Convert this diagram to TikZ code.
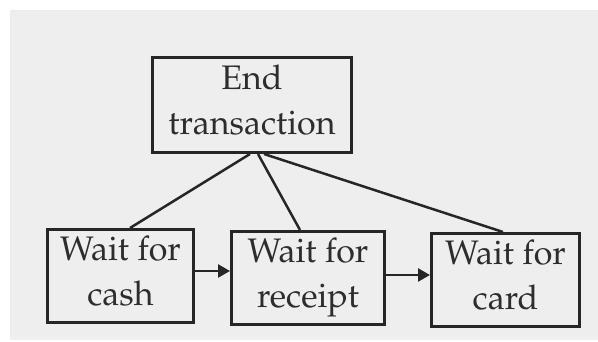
\documentclass[tikz,border=0pt]{standalone}
\usepackage[T1]{fontenc}
\usepackage{mathpazo}
\usetikzlibrary{arrows.meta}

\definecolor{paper}{RGB}{238,238,238}
\definecolor{ink}{RGB}{38,38,38}
\definecolor{textink}{RGB}{45,45,45}

\tikzset{
  statebox/.style={draw=ink, line width=3pt, rectangle, inner sep=0pt},
  statetext/.style={text=textink, align=center, inner sep=0pt,
    font=\fontsize{34}{45}\selectfont},
  link/.style={draw=ink, line width=2.5pt},
  flow/.style={draw=ink, line width=2.5pt, -{Triangle[length=12pt,width=13pt]}}
}

\begin{document}
\begin{tikzpicture}[x=1pt,y=1pt]
  \useasboundingbox (0,0) rectangle (598,342);
  \fill[white] (0,0) rectangle (598,342);
  \fill[paper] (10,2) rectangle (598,332);

  % state boxes
  \node[statebox, minimum width=199pt, minimum height=95pt] (end) at (252,237) {};
  \node[statebox, minimum width=146pt, minimum height=93pt] (cash) at (120.5,66) {};
  \node[statebox, minimum width=153pt, minimum height=93pt] (receipt) at (308,64) {};
  \node[statebox, minimum width=148pt, minimum height=93pt] (card) at (505.5,62) {};

  % box labels
  \node[statetext] (endlbl) at ([yshift=2pt]end.center) {\strut End\\\strut transaction};
  \node[statetext] (cashlbl) at ([yshift=2pt]cash.center) {\strut Wait for\\\strut cash};
  \node[statetext] (receiptlbl) at ([yshift=2pt]receipt.center) {\strut Wait for\\\strut receipt};
  \node[statetext] (cardlbl) at ([yshift=2pt]card.center) {\strut Wait for\\\strut card};

  % links to the end state
  \draw[link] ([xshift=-2pt]end.south) -- ([xshift=9.5pt]cash.north);
  \draw[link] ([xshift=6pt]end.south) -- ([xshift=-8pt]receipt.north);
  \draw[link] ([xshift=12pt]end.south) -- ([xshift=-2.5pt]card.north);

  % sequence arrows
  \draw[flow] ([yshift=5pt]cash.east) -- ([yshift=7pt]receipt.west);
  \draw[flow] ([yshift=3pt]receipt.east) -- ([yshift=5pt]card.west);
\end{tikzpicture}
\end{document}
